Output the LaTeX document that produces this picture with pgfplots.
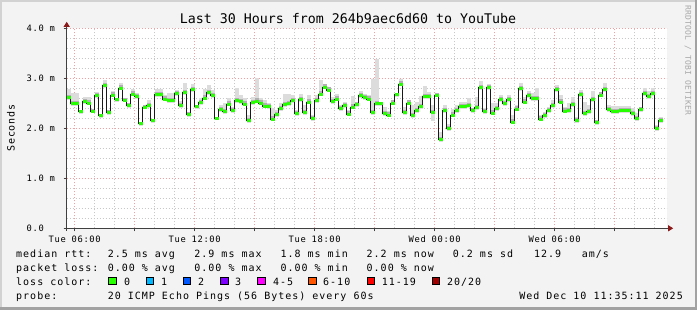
\documentclass[border=0pt]{standalone}
\usepackage{fontspec}
\setmainfont{DejaVu Sans Mono}
\newfontfamily\ttlfont{DejaVu Sans Mono}
\newfontfamily\legfont[LetterSpace=10]{DejaVu Sans Mono}
\newfontfamily\tckfont[LetterSpace=7]{DejaVu Sans Mono}
\newfontfamily\secfont[LetterSpace=7]{DejaVu Sans Mono}
\newfontfamily\rrdfont[LetterSpace=3]{DejaVu Sans Mono}
\usepackage{pgfplots}
\usepackage{pgfplotstable}
\pgfplotsset{compat=1.18}
\usetikzlibrary{arrows.meta}
\definecolor{bgcol}{HTML}{F3F3F3}
\definecolor{borderlight}{HTML}{D2D2D2}
\definecolor{borderdark}{HTML}{A2A2A2}
\definecolor{axiscol}{HTML}{404040}
\definecolor{arrowcol}{HTML}{8B1A1A}
\definecolor{mgrid}{HTML}{F0A0A0}
\definecolor{ngrid}{HTML}{C8C8C8}
\definecolor{smokeA}{HTML}{DCDCDC}
\definecolor{smokeB}{HTML}{B0B0B0}
\definecolor{lgreen}{HTML}{26FF00}
\definecolor{lc1}{HTML}{00B8FF}
\definecolor{lc2}{HTML}{0059FF}
\definecolor{lc3}{HTML}{7E00FF}
\definecolor{lc4}{HTML}{FF00FF}
\definecolor{lc5}{HTML}{FF5500}
\definecolor{lc6}{HTML}{FF0000}
\definecolor{lc7}{HTML}{A10000}
\definecolor{rrdcol}{HTML}{A8A8A8}

\pgfplotstableread{
x med top low
5.6 2.61 2.79 2.57
5.8 2.49 2.71 2.45
6.0 2.49 2.71 2.45
6.2 2.33 2.37 2.29
6.4 2.53 2.63 2.49
6.6 2.50 2.63 2.46
6.8 2.34 2.39 2.30
7.0 2.65 2.73 2.61
7.2 2.25 2.29 2.21
7.4 2.85 2.97 2.81
7.6 2.31 2.36 2.27
7.8 2.66 2.75 2.62
8.0 2.57 2.61 2.53
8.2 2.80 2.90 2.76
8.4 2.56 2.61 2.52
8.6 2.45 2.51 2.41
8.8 2.68 2.79 2.64
9.0 2.63 2.70 2.59
9.2 2.09 2.12 2.05
9.4 2.42 2.46 2.38
9.6 2.45 2.56 2.41
9.8 2.15 2.19 2.11
10.0 2.67 2.79 2.63
10.2 2.67 2.79 2.63
10.4 2.58 2.67 2.54
10.6 2.55 2.70 2.51
10.8 2.55 2.70 2.51
11.0 2.69 2.77 2.65
11.2 2.45 2.54 2.41
11.4 2.71 2.91 2.67
11.6 2.27 2.33 2.23
11.8 2.77 2.88 2.73
12.0 2.43 2.47 2.39
12.2 2.51 2.60 2.47
12.4 2.60 2.78 2.56
12.6 2.71 2.87 2.67
12.8 2.65 2.77 2.61
13.0 2.20 2.23 2.16
13.2 2.37 2.47 2.33
13.4 2.33 2.50 2.29
13.6 2.48 2.60 2.44
13.8 2.35 2.43 2.31
14.0 2.55 2.80 2.51
14.2 2.53 2.66 2.49
14.4 2.48 2.60 2.44
14.6 2.15 2.27 2.11
14.8 2.51 2.63 2.47
15.0 2.54 3.00 2.50
15.2 2.50 2.60 2.46
15.4 2.44 2.57 2.40
15.6 2.43 2.50 2.39
15.8 2.18 2.40 2.14
16.0 2.27 2.37 2.23
16.2 2.39 2.50 2.35
16.4 2.47 2.68 2.43
16.6 2.49 2.68 2.45
16.8 2.55 2.66 2.51
17.0 2.29 2.37 2.25
17.2 2.57 2.69 2.53
17.4 2.31 2.47 2.27
17.6 2.52 2.67 2.48
17.8 2.19 2.27 2.15
18.0 2.55 2.66 2.51
18.2 2.68 2.97 2.64
18.4 2.82 2.88 2.78
18.6 2.76 2.83 2.72
18.8 2.53 2.63 2.48
19.0 2.58 2.68 2.54
19.2 2.39 2.47 2.35
19.4 2.45 2.52 2.41
19.6 2.28 2.37 2.24
19.8 2.42 2.65 2.38
20.0 2.47 2.53 2.43
20.2 2.65 2.75 2.61
20.4 2.61 2.69 2.57
20.6 2.58 2.67 2.54
20.8 2.31 2.99 2.27
21.0 2.49 3.39 2.45
21.2 2.49 2.53 2.45
21.4 2.29 2.43 2.25
21.6 2.26 2.35 2.22
21.8 2.50 2.56 2.46
22.0 2.67 2.71 2.63
22.2 2.88 2.99 2.84
22.4 2.31 2.43 2.27
22.6 2.50 2.56 2.46
22.8 2.25 2.47 2.21
23.0 2.35 2.53 2.31
23.2 2.43 2.65 2.39
23.4 2.63 2.85 2.59
23.6 2.63 2.73 2.59
23.8 2.31 2.47 2.15
24.0 2.66 2.71 2.62
24.2 1.77 1.93 1.73
24.4 2.35 2.47 2.31
24.6 1.99 2.09 1.95
24.8 2.26 2.39 2.22
25.0 2.35 2.47 2.31
25.2 2.43 2.53 2.39
25.4 2.43 2.53 2.39
25.6 2.45 2.60 2.41
25.8 2.35 2.40 2.31
26.0 2.41 2.63 2.37
26.2 2.81 2.95 2.77
26.4 2.33 2.40 2.29
26.6 2.81 2.89 2.77
26.8 2.30 2.51 2.26
27.0 2.39 2.51 2.35
27.2 2.57 2.67 2.53
27.4 2.49 2.57 2.45
27.6 2.57 2.67 2.53
27.8 2.12 2.27 2.08
28.0 2.38 2.47 2.34
28.2 2.79 2.91 2.75
28.4 2.52 2.63 2.48
28.6 2.65 2.74 2.61
28.8 2.59 2.70 2.55
29.0 2.59 2.80 2.55
29.2 2.18 2.27 2.14
29.4 2.25 2.33 2.21
29.6 2.35 2.43 2.31
29.8 2.45 2.57 2.41
30.0 2.77 2.87 2.73
30.2 2.52 2.67 2.48
30.4 2.34 2.43 2.30
30.6 2.35 2.51 2.31
30.8 2.47 2.62 2.43
31.0 2.15 2.23 2.11
31.2 2.67 2.77 2.63
31.4 2.29 2.53 2.25
31.6 2.33 2.47 2.29
31.8 2.57 2.75 2.53
32.0 2.11 2.17 2.07
32.2 2.66 2.73 2.62
32.4 2.77 2.91 2.73
32.6 2.37 2.47 2.33
32.8 2.33 2.45 2.29
33.0 2.33 2.45 2.29
33.2 2.35 2.45 2.31
33.4 2.35 2.45 2.31
33.6 2.35 2.45 2.31
33.8 2.29 2.40 2.25
34.0 2.19 2.30 2.15
34.2 2.37 2.43 2.33
34.4 2.69 2.80 2.65
34.6 2.63 2.75 2.59
34.8 2.69 2.80 2.65
35.0 1.99 2.07 1.95
35.2 2.15 2.23 2.11
35.4 2.15 2.23 2.11
}\datatab

\begin{document}
\begin{tikzpicture}
\path[use as bounding box] (0pt,0pt) rectangle (697pt,310pt);
\fill[bgcol] (0pt,0pt) rectangle (697pt,310pt);

\begin{axis}[
  at={(66.7pt,81.7pt)}, anchor=south west,
  scale only axis, width=600pt, height=200pt,
  xmin=5.6, xmax=35.6, ymin=0, ymax=4,
  axis x line=bottom, axis y line=left,
  axis line style={draw=axiscol, line width=1pt},
  x axis line style={-{Triangle[length=5pt,width=6pt,color=arrowcol,fill=arrowcol]}, shorten >=-6.5pt, shorten <=-3pt},
  y axis line style={-{Triangle[length=5pt,width=6pt,color=arrowcol,fill=arrowcol]}, shorten >=-6.5pt, shorten <=-2.5pt},
  axis background/.style={fill=white},
  xtick={6,9,12,15,18,21,24,27,30,33},
  xticklabels={Tue 06:00,,Tue 12:00,,Tue 18:00,,Wed 00:00,,Wed 06:00,},
  minor xtick={7,8,10,11,13,14,16,17,19,20,22,23,25,26,28,29,31,32,34,35},
  ytick={0,1,2,3,4},
  yticklabels={0.0,1.0 m,2.0 m,3.0 m,4.0 m},
  minor ytick={0.2,0.4,0.6,0.8,1.2,1.4,1.6,1.8,2.2,2.4,2.6,2.8,3.2,3.4,3.6,3.8},
  grid=both,
  major grid style={draw=mgrid, line width=1pt, dash pattern=on 1pt off 2pt},
  minor grid style={draw=ngrid, line width=1pt, dash pattern=on 1pt off 2pt},
  tick align=outside, major tick length=3pt, minor tick length=0pt,
  tick style={draw=axiscol, line width=1pt},
  xticklabel style={font=\tckfont\fontsize{8.8}{10}\selectfont, anchor=north, inner sep=0pt, yshift=-4pt},
  yticklabel style={font=\tckfont\fontsize{8.8}{10}\selectfont, anchor=west, inner sep=0pt, xshift=-37.2pt},
]
% smoke (spread of the pings) drawn as 4px-wide error bars centred on each step
\addplot[draw=none, mark=none, forget plot, skip coords between index={149}{150},
  error bars/.cd, y dir=both, y explicit, error mark=none,
  error bar style={line width=4.1pt, draw=smokeA}]
  table[x expr=\thisrow{x}+0.1, y=med,
        y error plus expr=\thisrow{top}-\thisrow{med},
        y error minus expr=\thisrow{med}-\thisrow{low}]{\datatab};
\addplot[draw=none, mark=none, forget plot, skip coords between index={149}{150},
  error bars/.cd, y dir=both, y explicit, error mark=none,
  error bar style={line width=4.1pt, draw=smokeB}]
  table[x expr=\thisrow{x}+0.1, y=med,
        y error plus expr={min(\thisrow{top}-\thisrow{med},0.06)},
        y error minus expr=0.025]{\datatab};
\addplot[black!90, line width=1.4pt, const plot mark left, mark=none] table[x=x,y=med]{\datatab};
\addplot[lgreen, line width=3pt, jump mark left, mark=none] table[x=x,y=med]{\datatab};
\end{axis}

\begin{scope}[x=1pt,y=1pt]
% title and labels
\node[anchor=base, inner sep=0pt, font=\ttlfont\fontsize{13.3}{15}\selectfont] at (348,286) {Last 30 Hours from 264b9aec6d60 to YouTube};
\node[rotate=90, inner sep=0pt, font=\secfont\fontsize{10}{12}\selectfont] at (11,182) {Seconds};
\node[rotate=-90, anchor=north west, inner sep=0pt, text=rrdcol, font=\rrdfont\fontsize{8}{10}\selectfont] at (691.5,305) {RRDTOOL / TOBI OETIKER};

% legend
\begin{scope}[every node/.style={anchor=base west, inner sep=0pt, font=\legfont\fontsize{10}{12}\selectfont}]
\node at (16,52.5) {median rtt:};
\node at (107.6,52.5) {2.5 ms avg};
\node at (194.2,52.5) {2.9 ms max};
\node at (280.4,52.5) {1.8 ms min};
\node at (366.5,52.5) {2.2 ms now};
\node at (452.7,52.5) {0.2 ms sd};
\node at (533.9,52.5) {12.9};
\node at (581.7,52.5) {am/s};
\node at (16,38.5) {packet loss:};
\node at (107.6,38.5) {0.00 \% avg};
\node at (194.2,38.5) {0.00 \% max};
\node at (280.4,38.5) {0.00 \% min};
\node at (366.5,38.5) {0.00 \% now};
\node at (16,24.5) {loss color:};
\node at (123.8,24.5) {0};
\node at (161,24.5) {1};
\node at (197.8,24.5) {2};
\node at (235,24.5) {3};
\node at (272.8,24.5) {4-5};
\node at (323,24.5) {6-10};
\node at (381.7,24.5) {11-19};
\node at (446.9,24.5) {20/20};
\node at (16,10.5) {probe:};
\node at (107.6,10.5) {20 ICMP Echo Pings (56 Bytes) every 60s};
\node[anchor=base east] at (683,10.5) {Wed Dec 10 11:35:11 2025};
\end{scope}
\begin{scope}[line width=1pt, draw=black]
\filldraw[fill=lgreen] (108.8,25) rectangle +(7.5,7.5);
\filldraw[fill=lc1] (146.3,25) rectangle +(7.5,7.5);
\filldraw[fill=lc2] (183.3,25) rectangle +(7.5,7.5);
\filldraw[fill=lc3] (220.8,25) rectangle +(7.5,7.5);
\filldraw[fill=lc4] (257.9,25) rectangle +(7.5,7.5);
\filldraw[fill=lc5] (308.8,25) rectangle +(7.5,7.5);
\filldraw[fill=lc6] (367.3,25) rectangle +(7.5,7.5);
\filldraw[fill=lc7] (432.3,25) rectangle +(7.5,7.5);
\end{scope}

% frame
\fill[borderlight] (0,0) rectangle (2,310);
\fill[borderlight] (0,308) rectangle (697,310);
\fill[borderdark] (695,0) rectangle (697,310);
\fill[borderdark] (0,0) rectangle (697,2.5);
\end{scope}
\end{tikzpicture}
\end{document}
